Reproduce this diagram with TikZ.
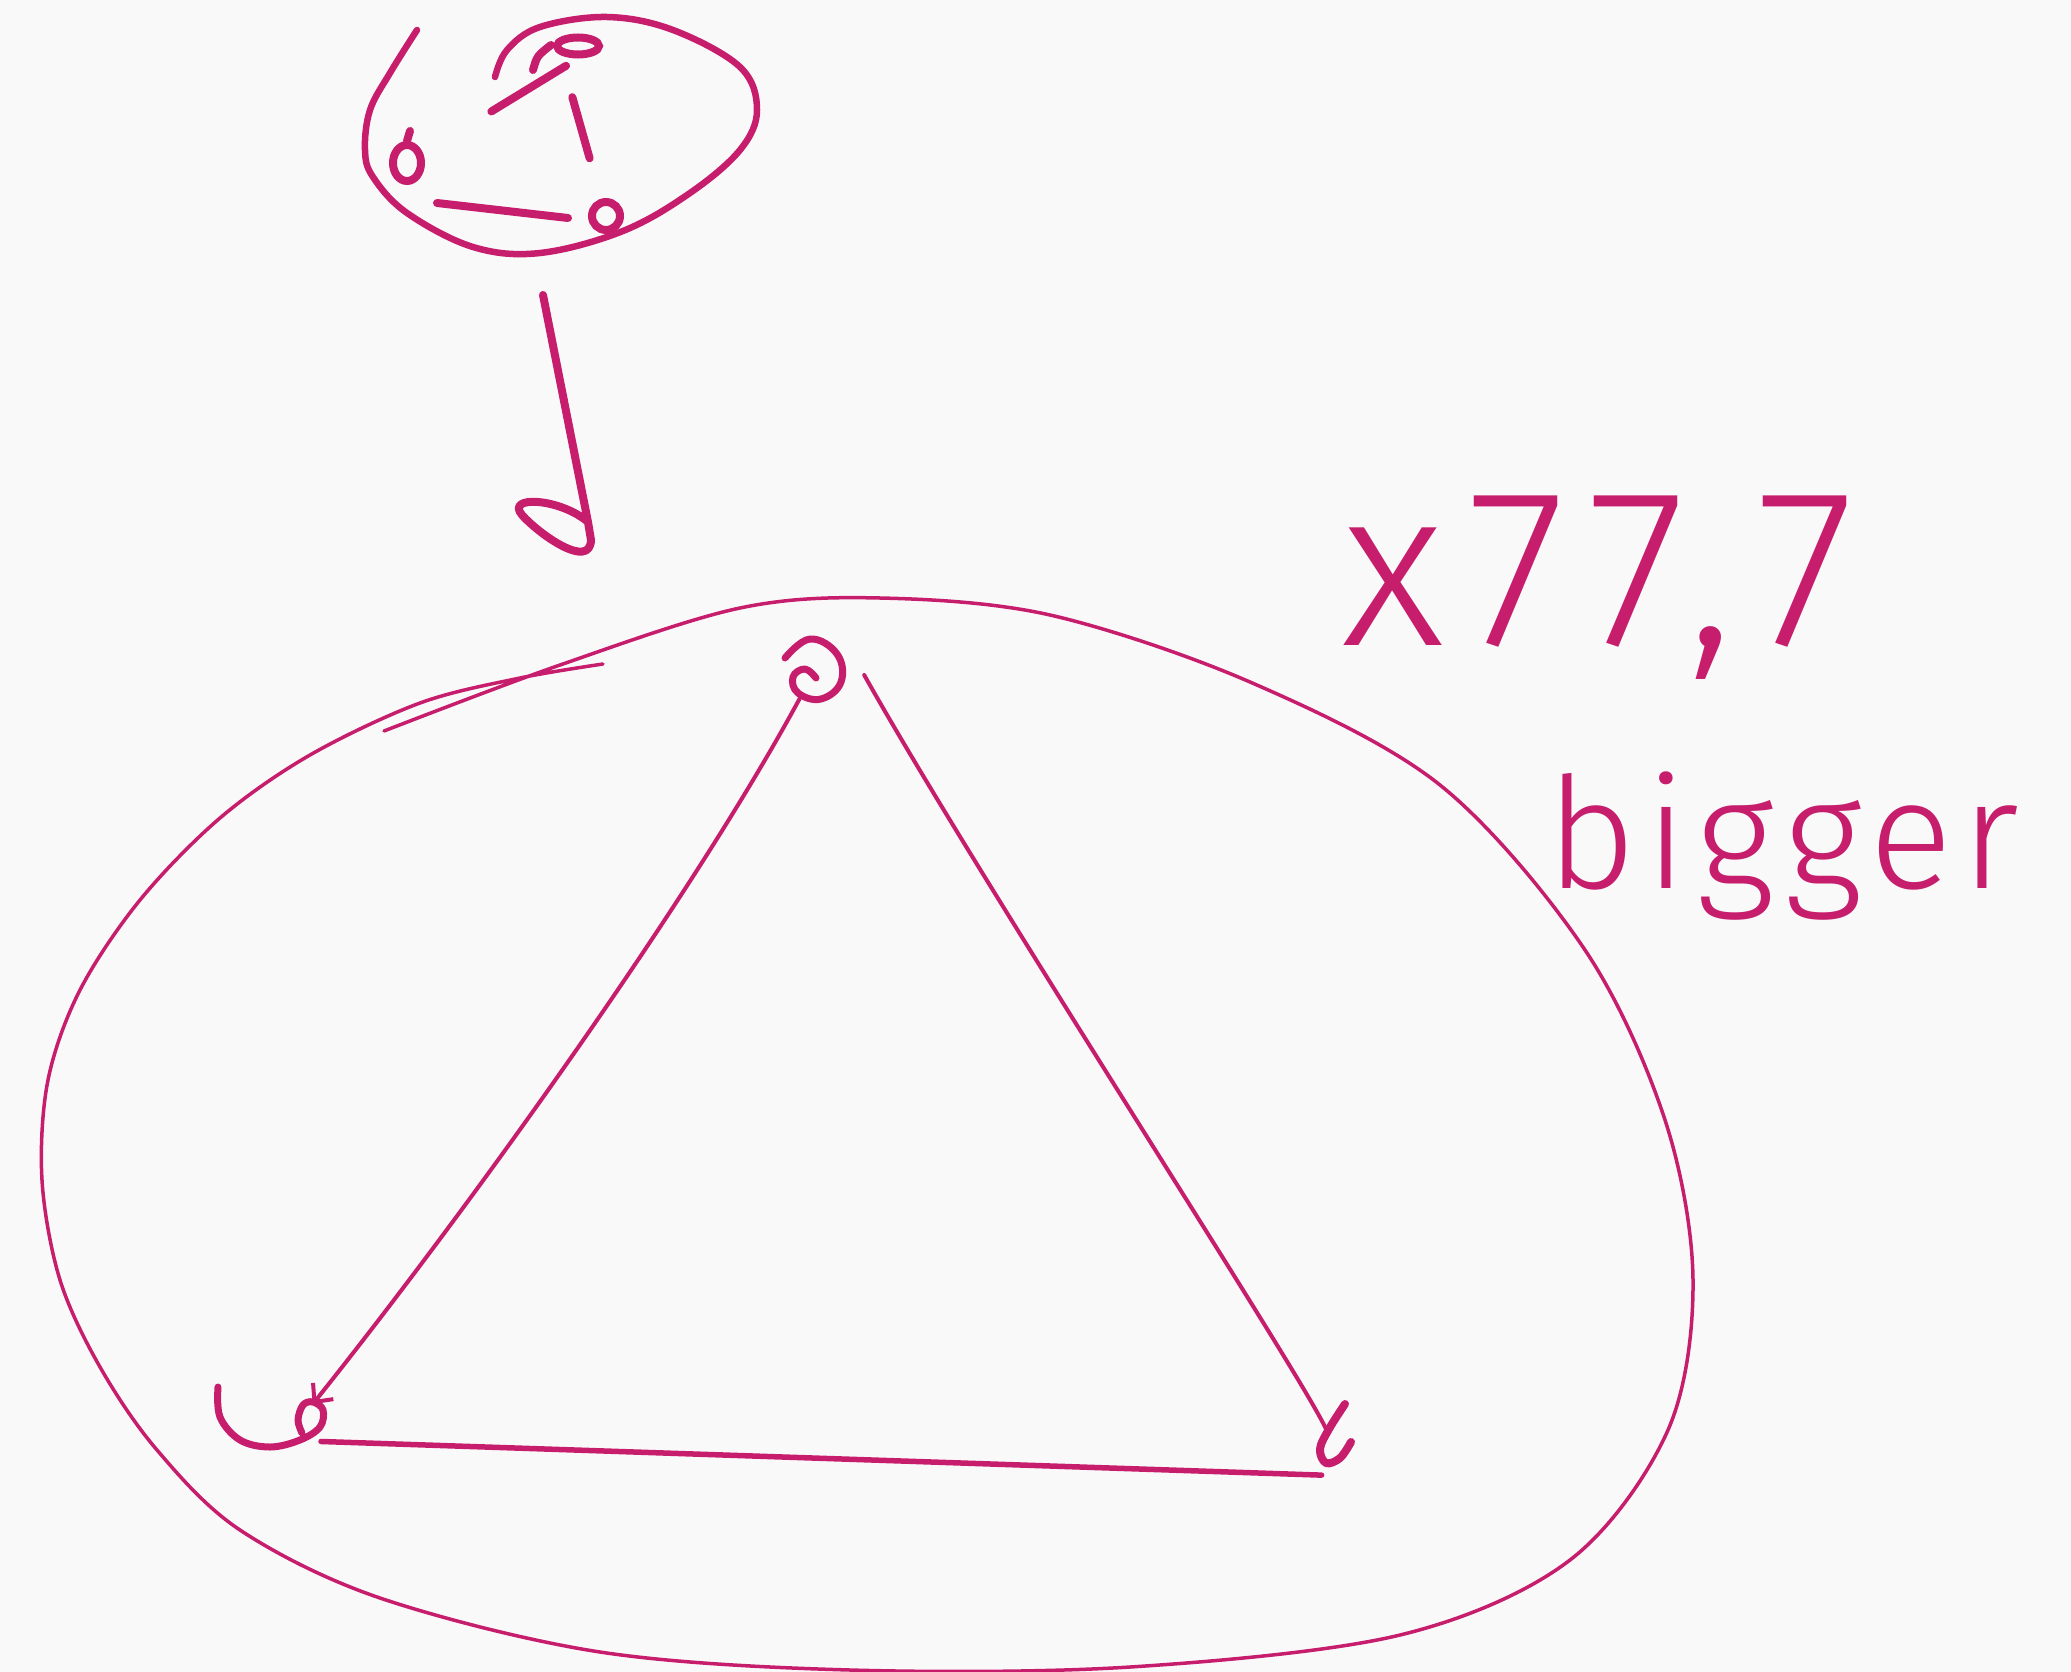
\documentclass[tikz,border=0pt]{standalone}
\usepackage{fontspec}
\newfontfamily\handA{Fira Sans Light}[LetterSpace=10]
\newfontfamily\handB{Fira Sans Light}[LetterSpace=6]
\usetikzlibrary{arrows.meta,calc,shapes.geometric}
\definecolor{ink}{RGB}{198,30,108}
\definecolor{paper}{RGB}{250,249,250}
\begin{document}
\begin{tikzpicture}[x=1pt,y=-1pt,
  inkline/.style={draw=ink, line cap=round, line join=round},
  thinink/.style={inkline, line width=3.5pt},
  thickink/.style={inkline, line width=8pt},
  vtx/.style={circle, inner sep=0pt, minimum size=#1},
  edge/.style={thinink, line width=4pt},
  smallvtx/.style={draw=ink, line width=8pt, inner sep=0pt},
  handtext/.style={text=ink, inner sep=0pt}]
\fill[paper] (0,0) rectangle (2071,1672);
\useasboundingbox (0,0) rectangle (2071,1672);

% ---------- small graph ----------
\node[smallvtx, ellipse, minimum width=42pt, minimum height=17pt] (sa) at (578,46) {};
\node[smallvtx, ellipse, minimum width=28pt, minimum height=36pt] (sb) at (407,163) {};
\node[smallvtx, circle, minimum size=28pt] (sc) at (606,216) {};
\draw[thickink] (533,70) .. controls (537,56) .. (551,45);
\draw[thickink] (410,131) -- (sb.north);
\draw[thickink, shorten <=14pt, shorten >=80pt] (sa.south) -- (sb);
\draw[thickink, shorten <=44pt, shorten >=42pt] (sa.south west) -- (sc);
\draw[thickink] ([shift={(30,40)}]sb.center) -- ([shift={(-38,2)}]sc.center);
% small enclosing curve
\draw[inkline, line width=6.5pt] plot[smooth, tension=0.6] coordinates {
 (495,77) (507,50) (540,27) (607,17) (673,30) (740,67) (757,110) (740,150)
 (690,193) (623,231) (540,253) (473,247) (407,213) (373,177) (365,150)
 (370,110) (390,73) (417,30)};

% ---------- hand-drawn arrow ----------
\coordinate (d0) at (543,295);
\coordinate (d1) at (588,522);
\draw[thickink] (d0) -- (d1) .. controls (560,498) and (505,495) .. (522,515)
  .. controls (540,535) and (590,570) .. (591,540) -- (d1);

% ---------- big enclosing curve ----------
\draw[thinink] plot[smooth, tension=0.55] coordinates {
 (384,731) (560,665) (740,608) (880,598) (1050,615) (1250,682) (1440,785)
 (1585,950) (1665,1120) (1693,1280) (1668,1430) (1570,1560) (1400,1635)
 (1130,1667) (850,1670) (600,1652) (380,1598) (240,1530) (157,1450)
 (100,1367) (60,1280) (42,1180) (48,1080) (80,990) (140,900) (220,818)
 (310,755) (420,703) (520,678) (603,664)};

% ---------- big triangle ----------
\node[vtx=56pt] (T) at (814,672) {};
\node[vtx=40pt] (L) at (300,1420) {};
\node[vtx=44pt] (R) at (1335,1450) {};
\draw[inkline, line width=7pt] plot[smooth, tension=0.7] coordinates {
 (785,658) (810,639) (837,654) (841,682) (821,699) (798,693) (793,677) (805,669) (816,678)};
\draw[inkline, line width=7pt] plot[smooth, tension=0.6] coordinates {
 (218,1387) (220,1417) (240,1440) (270,1447) (300,1440) (320,1427) (323,1410)
 (313,1402) (303,1405) (298,1420) (302,1433)};
\draw[inkline, line width=8pt] plot[smooth, tension=0.6] coordinates {
 (1345,1404) (1329,1429) (1320,1449) (1326,1463) (1340,1458) (1351,1442)};

\draw[edge, -{Straight Barb[length=14pt,width=26pt]}] (T) .. controls (690,902) and (460,1220) .. (L);
\draw[edge] ([shift={(22,3)}]T.east) .. controls (978,878) and (1304,1378) .. (R);
\draw[inkline, line width=5.5pt] ([shift={(8,6)}]L.-50) -- ([shift={(-4,5)}]R.245);

% ---------- labels ----------
\node[handtext, font=\handA\fontsize{225}{225}\selectfont, anchor=base] (lbla) at (1598,645) {x77,7};
\node[handtext, font=\handB\fontsize{155}{155}\selectfont, anchor=base] (lblb) at (1783,888) {bigger};
\end{tikzpicture}
\end{document}
